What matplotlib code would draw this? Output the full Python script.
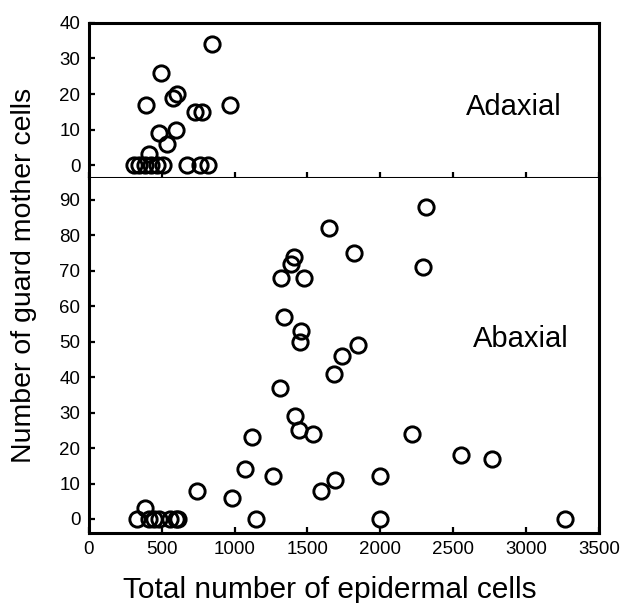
import numpy as np
import matplotlib
matplotlib.use("Agg")
import matplotlib.pyplot as plt

plt.rcParams['font.family'] = ['Liberation Sans', 'DejaVu Sans']

# Adaxial (upper panel)
ad_x = [845, 495, 605, 575, 395, 970, 730, 775, 600, 485, 535, 415,
        310, 345, 385, 430, 470, 510, 675, 760, 820]
ad_y = [34, 26, 20, 19, 17, 17, 15, 15, 10, 9, 6, 3,
        0, 0, 0, 0, 0, 0, 0, 0, 0]

# Abaxial (lower panel)
ab_x = [1645, 1820, 1405, 1390, 1320, 1475, 1340, 1455, 1450, 1845, 1735, 1680,
        1310, 2315, 2290, 1415, 1440, 1540, 1120, 1075, 1265, 1690, 1590, 740,
        980, 1150, 385, 2000, 2000, 2220, 2555, 2765, 3265,
        330, 410, 445, 480, 560, 595, 615]
ab_y = [82, 75, 74, 72, 68, 68, 57, 53, 50, 49, 46, 41,
        37, 88, 71, 29, 25, 24, 23, 14, 12, 11, 8, 8,
        6, 0, 3, 12, 0, 24, 18, 17, 0,
        0, 0, 0, 0, 0, 0, 0]

xticks = [0, 500, 1000, 1500, 2000, 2500, 3000, 3500]

fig = plt.figure(figsize=(6.23, 6.03), dpi=100)
L, W = 0.1425, 0.819
ax_top = fig.add_axes([L, 0.7048, W, 0.2571])
ax_bot = fig.add_axes([L, 0.1161, W, 0.5887])

mk = dict(marker='o', ms=11, mew=2.1, mfc='none', mec='black', ls='none', clip_on=False)
ax_top.plot(ad_x, ad_y, **mk)
ax_bot.plot(ab_x, ab_y, **mk)

ax_top.set_xlim(0, 3500)
ax_top.set_ylim(-3.65, 40)
ax_bot.set_xlim(0, 3500)
ax_bot.set_ylim(-3.95, 96.2)

ax_top.set_yticks(range(0, 41, 10))
ax_top.set_xticks(xticks)
ax_top.tick_params(axis='x', labelbottom=False)
ax_bot.set_yticks(range(0, 91, 10))
ax_bot.set_xticks(xticks)

for ax in (ax_top, ax_bot):
    for s in ax.spines.values():
        s.set_linewidth(2.2)
    ax.tick_params(direction='in', length=4, width=1.6, labelsize=13.5, pad=6)

ax_bot.spines['top'].set_visible(False)

ax_top.text(2585, 14, 'Adaxial', fontsize=21, va='baseline', ha='left')
ax_bot.text(2637, 48.6, 'Abaxial', fontsize=21, va='baseline', ha='left')

fig.text(330 / 623, 1 - 598 / 603, 'Total number of epidermal cells',
         fontsize=21.5, ha='center', va='baseline')
fig.text(24 / 623, 1 - 275 / 603, 'Number of guard mother cells',
         fontsize=20.5, ha='center', va='center', rotation=90)

plt.savefig('out.png', dpi=100)
